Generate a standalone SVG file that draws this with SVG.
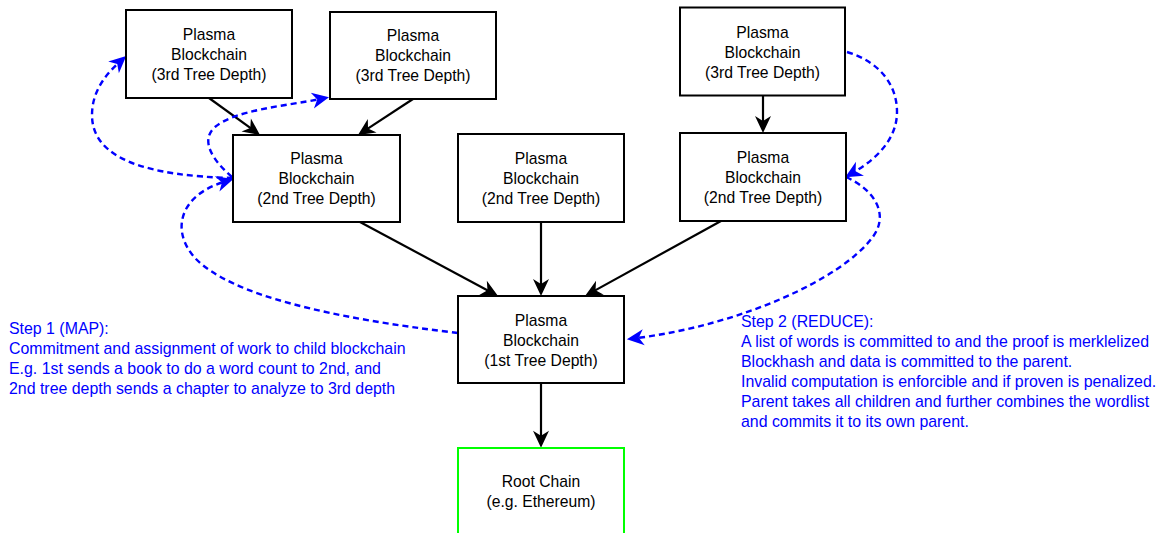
<svg xmlns="http://www.w3.org/2000/svg" width="1161" height="533" viewBox="0 0 1161 533">
<style>
.box{fill:#fff;stroke:#000;stroke-width:2}
.root{fill:#fff;stroke:#00ff00;stroke-width:2}
.t{font-family:"Liberation Sans",Arial,sans-serif;font-size:15.7px;fill:#000;text-anchor:middle}
.n{font-family:"Liberation Sans",Arial,sans-serif;font-size:15.9px;fill:#0000ff}
.e{fill:none;stroke:#000;stroke-width:2.2}
.d{fill:none;stroke:#0000ff;stroke-width:2.4;stroke-dasharray:6 4}
</style>
<defs>
<marker id="ak" viewBox="-19 -9 20 18" refX="-9" refY="0" markerWidth="20" markerHeight="18" markerUnits="userSpaceOnUse" orient="auto"><path d="M0,0 L-17,-8 L-12,0 L-17,8 Z" fill="#000"/></marker>
<marker id="ab" viewBox="-19 -9 20 18" refX="-9" refY="0" markerWidth="20" markerHeight="18" markerUnits="userSpaceOnUse" orient="auto"><path d="M0,0 L-17,-8 L-12,0 L-17,8 Z" fill="#0000ff"/></marker>
</defs>
<g id="connectors">
<path class="e" d="M209,98 L252.7,129.7" marker-end="url(#ak)"/>
<path class="e" d="M413,99 L365.5,130.1" marker-end="url(#ak)"/>
<path class="e" d="M763,95.5 L763,124" marker-end="url(#ak)"/>
<path class="e" d="M360,222 L490.1,291.7" marker-end="url(#ak)"/>
<path class="e" d="M541,222 L541,287" marker-end="url(#ak)"/>
<path class="e" d="M721,221 L592.9,291.6" marker-end="url(#ak)"/>
<path class="e" d="M541,383 L541,438.7" marker-end="url(#ak)"/>
<path class="d" d="M233,178 C150,176 92,160 92,115 C92,92 105,75 119.5,62" marker-end="url(#ab)"/>
<path class="d" d="M232,177 C212,160 200,140 215,127 C235,110 285,106 320.2,99" marker-end="url(#ab)"/>
<path class="d" d="M458,333 C330,318 230,295 195,258 C170,230 180,195 224.8,181.6" marker-end="url(#ab)"/>
<path class="d" d="M847,52 C880,62 897,85 897,112 C897,140 875,160 853,172.7" marker-end="url(#ab)"/>
<path class="d" d="M846,177 C875,190 890,215 872,238 C840,280 740,325 635.8,338.2" marker-end="url(#ab)"/>
</g>
<g id="node-a">
<rect class="box" x="126" y="10" width="166" height="88"/>
<text class="t" x="209" y="40">Plasma</text>
<text class="t" x="209" y="60">Blockchain</text>
<text class="t" x="209" y="80">(3rd Tree Depth)</text>
</g>
<g id="node-b">
<rect class="box" x="330" y="12" width="166" height="87"/>
<text class="t" x="413" y="41">Plasma</text>
<text class="t" x="413" y="61">Blockchain</text>
<text class="t" x="413" y="81">(3rd Tree Depth)</text>
</g>
<g id="node-c">
<rect class="box" x="233" y="135" width="167" height="87"/>
<text class="t" x="316.5" y="164">Plasma</text>
<text class="t" x="316.5" y="184">Blockchain</text>
<text class="t" x="316.5" y="204">(2nd Tree Depth)</text>
</g>
<g id="node-d">
<rect class="box" x="458" y="134" width="166" height="88"/>
<text class="t" x="541" y="163.5">Plasma</text>
<text class="t" x="541" y="183.5">Blockchain</text>
<text class="t" x="541" y="203.5">(2nd Tree Depth)</text>
</g>
<g id="node-e">
<rect class="box" x="680" y="7.5" width="165" height="88"/>
<text class="t" x="762.5" y="37.5">Plasma</text>
<text class="t" x="762.5" y="57.5">Blockchain</text>
<text class="t" x="762.5" y="77.5">(3rd Tree Depth)</text>
</g>
<g id="node-f">
<rect class="box" x="680" y="133" width="166" height="88"/>
<text class="t" x="763" y="162.5">Plasma</text>
<text class="t" x="763" y="182.5">Blockchain</text>
<text class="t" x="763" y="202.5">(2nd Tree Depth)</text>
</g>
<g id="node-g">
<rect class="box" x="458" y="296" width="166" height="87"/>
<text class="t" x="541" y="325.5">Plasma</text>
<text class="t" x="541" y="345.5">Blockchain</text>
<text class="t" x="541" y="365.5">(1st Tree Depth)</text>
</g>
<g id="node-root">
<rect class="root" x="458" y="448" width="166" height="100"/>
<text class="t" x="541" y="487">Root Chain</text>
<text class="t" x="541" y="506.5">(e.g. Ethereum)</text>
</g>
<g id="note-step1">
<text class="n" x="9" y="333.5">Step 1 (MAP):</text>
<text class="n" x="9" y="353.5">Commitment and assignment of work to child blockchain</text>
<text class="n" x="9" y="373.5">E.g. 1st sends a book to do a word count to 2nd, and</text>
<text class="n" x="9" y="393.5">2nd tree depth sends a chapter to analyze to 3rd depth</text>
</g>
<g id="note-step2">
<text class="n" x="741" y="327">Step 2 (REDUCE):</text>
<text class="n" x="741" y="347">A list of words is committed to and the proof is merklelized</text>
<text class="n" x="741" y="367">Blockhash and data is committed to the parent.</text>
<text class="n" x="741" y="387">Invalid computation is enforcible and if proven is penalized.</text>
<text class="n" x="741" y="407">Parent takes all children and further combines the wordlist</text>
<text class="n" x="741" y="427">and commits it to its own parent.</text>
</g>
</svg>
